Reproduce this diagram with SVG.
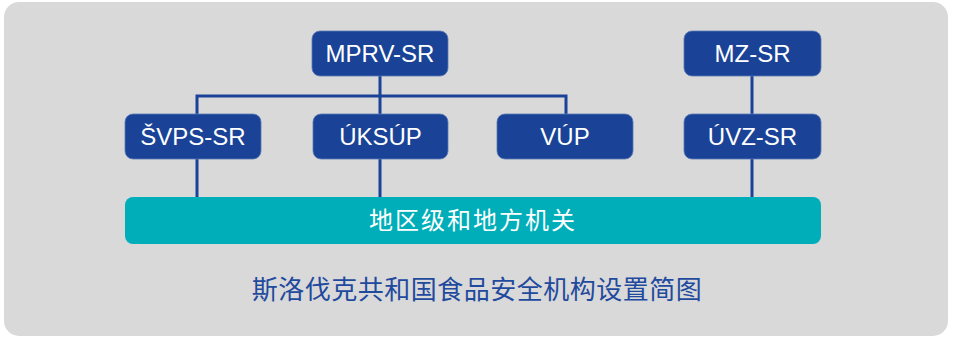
<svg xmlns="http://www.w3.org/2000/svg" width="953" height="338" viewBox="0 0 953 338">
<style>
.node{fill:#1a4397;stroke:#5a78b5;stroke-width:0.8}
.nt{fill:#ffffff;font-family:"Liberation Sans",Arial,sans-serif;font-size:24px;text-anchor:middle}
.ln{stroke:#1a4397;stroke-width:3;fill:none}
.cjk{font-family:"Noto Sans CJK SC","Noto Sans",sans-serif;text-anchor:middle}
</style>
<rect x="4" y="2" width="944" height="334" rx="15" fill="#d9d9d9"/>
<g id="connectors">
<path class="ln" d="M380,76V197M197,114V96H566V114M197,159V197M752,76V197"/>
</g>
<g id="n-mprv"><rect class="node" x="312" y="31" width="136" height="45" rx="8"/><text class="nt" x="380" y="62">MPRV-SR</text></g>
<g id="n-mz"><rect class="node" x="684" y="31" width="137" height="45" rx="8"/><text class="nt" x="752.5" y="62">MZ-SR</text></g>
<g id="n-svps"><rect class="node" x="125" y="114" width="136" height="45" rx="8"/><text class="nt" x="193" y="145">ŠVPS-SR</text></g>
<g id="n-uksup"><rect class="node" x="313" y="114" width="135" height="45" rx="8"/><text class="nt" x="380.5" y="145">ÚKSÚP</text></g>
<g id="n-vup"><rect class="node" x="497" y="114" width="136" height="45" rx="8"/><text class="nt" x="565" y="145">VÚP</text></g>
<g id="n-uvz"><rect class="node" x="684" y="114" width="137" height="45" rx="8"/><text class="nt" x="752.5" y="145">ÚVZ-SR</text></g>
<g id="n-local"><rect x="125" y="197" width="696" height="47" rx="8" fill="#00aeb9"/><text class="cjk" x="473" y="229" fill="#ffffff" font-size="24" letter-spacing="2">地区级和地方机关</text></g>
<text class="cjk" x="477" y="299" fill="#1f4a9e" font-size="26" letter-spacing="0.5">斯洛伐克共和国食品安全机构设置简图</text>
</svg>
